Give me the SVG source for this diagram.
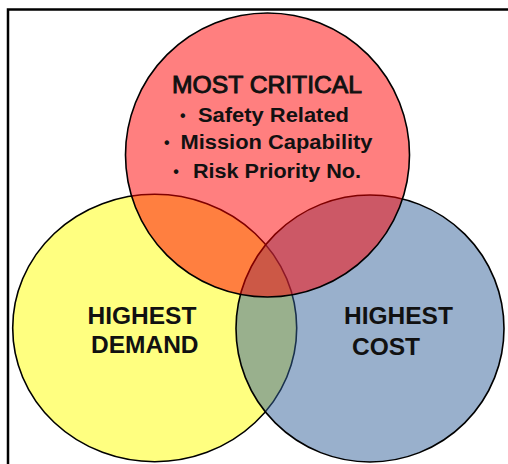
<svg xmlns="http://www.w3.org/2000/svg" width="508" height="464" viewBox="0 0 508 464">
  <style>
    .ring { stroke: #000; stroke-width: 1.6; }
    .lbl { font-family: "Liberation Sans", Arial, sans-serif; fill: #111; }
    .big { font-size: 24.5px; font-weight: bold; }
    .head { font-size: 23px; font-weight: normal; stroke: #111; stroke-width: 0.9; }
    .item { font-size: 20px; font-weight: bold; }
    .dot { font-size: 16px; font-weight: bold; }
  </style>
  <rect x="0" y="0" width="508" height="464" fill="#fff"/>
  <rect x="8" y="9.5" width="520" height="480" fill="none" stroke="#000" stroke-width="2.5"/>
  <g id="highest-demand">
    <ellipse class="ring" cx="154.7" cy="328" rx="142" ry="133.7" fill="#FFFF80"/>
    <text class="lbl big" x="87.5" y="323.7">HIGHEST</text>
    <text class="lbl big" x="91" y="352.7">DEMAND</text>
  </g>
  <g id="highest-cost">
    <ellipse class="ring" cx="370" cy="328.5" rx="134" ry="133.5" fill="#336199" fill-opacity="0.5"/>
    <text class="lbl big" x="344" y="324.3">HIGHEST</text>
    <text class="lbl big" x="352" y="355.3">COST</text>
  </g>
  <g id="most-critical">
    <circle class="ring" cx="267.5" cy="155" r="142" fill="#FF0000" fill-opacity="0.5"/>
    <text class="lbl head" x="172" y="93.3" textLength="190" lengthAdjust="spacingAndGlyphs">MOST CRITICAL</text>
    <text class="lbl dot" x="182.7" y="120.5" text-anchor="middle">•</text>
    <text class="lbl item" x="198" y="121.5" textLength="151" lengthAdjust="spacingAndGlyphs">Safety Related</text>
    <text class="lbl dot" x="166.7" y="148" text-anchor="middle">•</text>
    <text class="lbl item" x="180.5" y="149" textLength="192" lengthAdjust="spacingAndGlyphs">Mission Capability</text>
    <text class="lbl dot" x="176" y="177" text-anchor="middle">•</text>
    <text class="lbl item" x="193" y="178" textLength="168" lengthAdjust="spacingAndGlyphs">Risk Priority No.</text>
  </g>
  <g id="connectors"/>
</svg>
